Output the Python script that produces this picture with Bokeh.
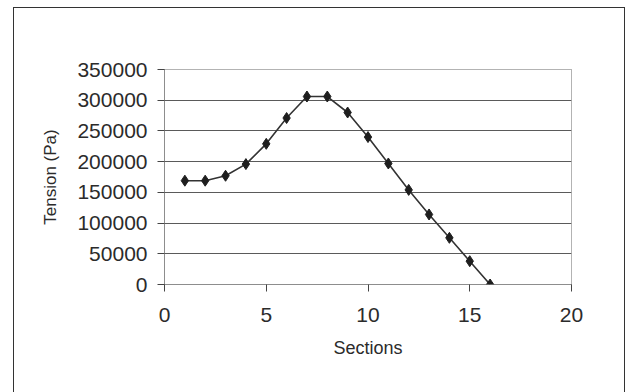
from bokeh.plotting import figure
from bokeh.models import FixedTicker, BasicTickFormatter
from bokeh.embed import file_html
from bokeh.resources import INLINE

# Tension along the tower, one value per section
sections = [1, 2, 3, 4, 5, 6, 7, 8, 9, 10, 11, 12, 13, 14, 15, 16]
tension_pa = [169000, 169000, 177000, 196000, 229000, 271000, 306000, 306000,
              280000, 240000, 197000, 154000, 114000, 76000, 38000, 0]

x_ticks = [0, 5, 10, 15, 20]
y_ticks = [0, 50000, 100000, 150000, 200000, 250000, 300000, 350000]
grid_ticks = [50000, 100000, 150000, 200000, 250000, 300000]

FONT = "Liberation Sans"
INK = "#2b2b2b"

p = figure(
    width=612, height=385,
    x_range=(0, 20), y_range=(0, 350000),
    output_backend="svg", toolbar_location=None,
    min_border_left=150, min_border_right=55,
    min_border_top=61, min_border_bottom=109,
    x_axis_label="Sections", y_axis_label="Tension (Pa)",
    margin=(7, 0, 0, 13),
)
# frame around the whole chart (open at the bottom edge of the page)
p.styles = {"border": "1px solid #333", "border-bottom": "none",
            "box-sizing": "border-box"}

p.background_fill_color = "white"
p.border_fill_color = "white"
p.outline_line_color = "#666"
p.outline_line_dash = "1 1"
p.outline_line_width = 1

# grid: horizontal lines only
p.xgrid.visible = False
p.ygrid.ticker = FixedTicker(ticks=grid_ticks)
p.ygrid.grid_line_color = "#5a5a5a"
p.ygrid.grid_line_width = 1

for ax in (p.xaxis[0], p.yaxis[0]):
    ax.axis_line_color = "#666"
    ax.axis_line_dash = "1 1"
    ax.major_tick_line_color = "#444"
    ax.major_tick_out = 7
    ax.major_tick_in = 0
    ax.minor_tick_line_color = None
    ax.major_label_text_font = FONT
    ax.major_label_text_font_size = "21px"
    ax.major_label_text_color = INK
    ax.axis_label_text_font = FONT
    ax.axis_label_text_font_style = "normal"
    ax.axis_label_text_color = INK

p.xaxis.ticker = FixedTicker(ticks=x_ticks)
p.yaxis.ticker = FixedTicker(ticks=y_ticks)
p.yaxis.formatter = BasicTickFormatter(use_scientific=False)

p.xaxis.major_label_standoff = 16
p.yaxis.major_label_standoff = 10
p.xaxis.axis_label_text_font_size = "18px"
p.yaxis.axis_label_text_font_size = "17px"
p.xaxis.axis_label_standoff = 13
p.yaxis.axis_label_standoff = 14

p.line(sections, tension_pa, line_color="#333", line_width=1.6)
p.scatter(sections, tension_pa, marker="diamond", size=11,
          fill_color="#1e1e1e", line_color="#1e1e1e")

open("out.html", "w").write(file_html(p, INLINE))
